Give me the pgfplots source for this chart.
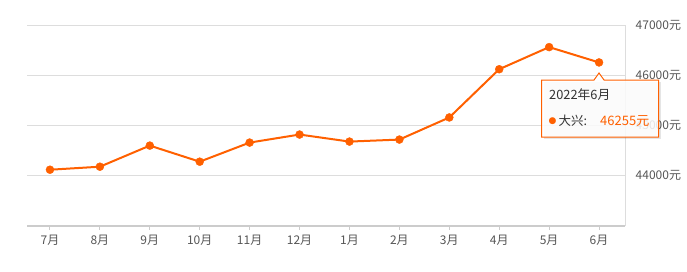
\documentclass[border=0pt]{standalone}
\usepackage{fontspec}
\setmainfont{Noto Sans CJK SC}
\newfontfamily\sym{DejaVu Sans}
\usepackage{pgfplots}
\pgfplotsset{compat=1.18}
\definecolor{lineor}{HTML}{FF6000}
\definecolor{gridc}{HTML}{DDDDDD}
\definecolor{axisc}{HTML}{CCCCCC}
\definecolor{txt}{HTML}{555555}
\definecolor{tip}{HTML}{333333}
\begin{document}
\begin{tikzpicture}[x=1pt,y=1pt]
\path[use as bounding box] (0,0) rectangle (687,271);
\begin{axis}[
  at={(27pt,45pt)}, anchor=south west,
  scale only axis, width=598pt, height=201pt,
  xmin=-0.46, xmax=11.52, ymin=43000, ymax=47000,
  axis x line*=bottom, axis y line*=right,
  x axis line style={-, axisc, line width=2pt},
  y axis line style={-, gridc, line width=1pt},
  xtick={0,...,11},
  xticklabels={7月,8月,9月,10月,11月,12月,1月,2月,3月,4月,5月,6月},
  ytick={44000,45000,46000,47000},
  scaled y ticks=false,
  /pgf/number format/assume math mode=true,
  /pgf/number format/1000 sep={},
  yticklabel={\pgfmathprintnumber{\tick}元},
  ymajorgrids, grid style={gridc, line width=1pt},
  major tick length=4pt, tick align=outside,
  xtick style={axisc, line width=1pt},
  ytick style={draw=none},
  tick label style={font=\fontsize{12}{14}\selectfont, text=txt},
  xticklabel style={yshift=-2pt},
  yticklabel style={anchor=west, inner sep=0pt, xshift=6.5pt},
  clip=false,
]
\addplot[lineor, line width=2pt, mark=*, mark size=4pt, mark options={solid, fill=lineor, draw=lineor, line width=0.4pt}]
  coordinates {
  (0,44120) (1,44180) (2,44600) (3,44280) (4,44660) (5,44820)
  (6,44680) (7,44720) (8,45160) (9,46120) (10,46560) (11,46255)
  };
\end{axis}
% tooltip
\fill[black, opacity=0.10] (543.5,132) rectangle (661,189);
\filldraw[fill=white, fill opacity=0.85, draw=lineor, line width=1pt]
  (541.5,134) -- (658.5,134) -- (658.5,191) -- (604,191) -- (599,198) -- (594,191) -- (541.5,191) -- cycle;
\node[anchor=west, inner sep=0pt, text=tip, font=\fontsize{12.8}{14}\selectfont] at (549,176) {2022年6月};
\node[inner sep=0pt, text=lineor, font=\sym\fontsize{9}{10}\selectfont] at (552.5,150) {●};
\node[anchor=west, inner sep=0pt, text=tip, font=\fontsize{12.5}{14}\selectfont] at (558.5,150) {大兴:};
\node[anchor=west, inner sep=0pt, text=lineor, font=\fontsize{13}{15}\selectfont] at (600,150) {46255元};
\end{tikzpicture}
\end{document}
